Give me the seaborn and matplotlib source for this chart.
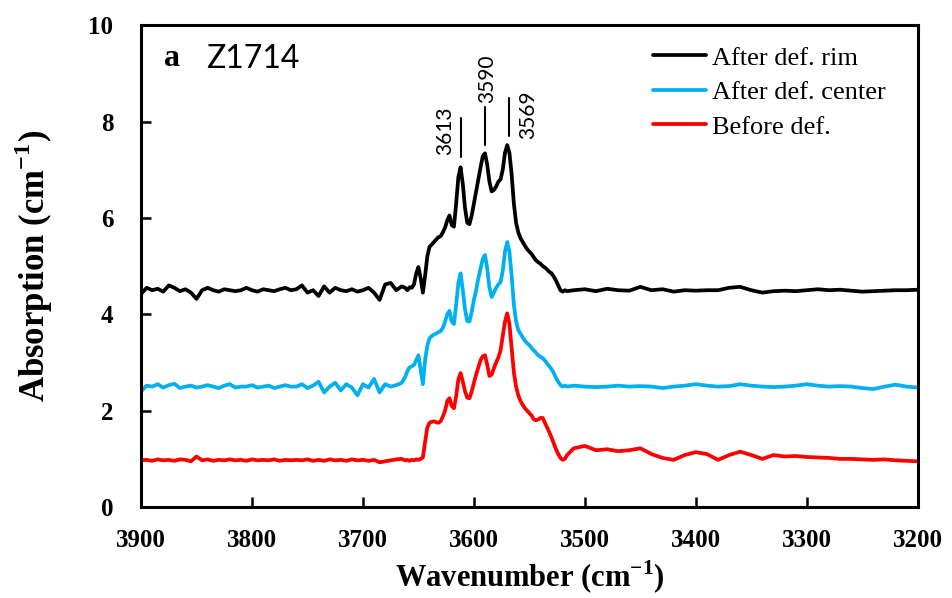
"""FTIR absorption spectra of Z1714 before and after deformation."""

import matplotlib

matplotlib.use("Agg")
import matplotlib.pyplot as plt
import numpy as np
import pandas as pd
import seaborn as sns

# wavenumber sampling: coarse on the left baseline, fine across the OH bands, coarse on the right
WAVENUMBER = np.concatenate(
    [np.arange(3900, 3664, -5), np.arange(3662, 3515, -2), np.arange(3510, 3199, -10)]
)

SERIES_NAMES = ["After def. rim", "After def. center", "Before def."]
SERIES_COLORS = ["#000000", "#00B0F0", "#FF0000"]

# 3900 -> 3665 (step 5)
RIM_LEFT = [4.42, 4.55, 4.5, 4.53, 4.47, 4.6, 4.55, 4.48, 4.52, 4.45, 4.32, 4.5, 4.55, 4.5,
            4.47, 4.52, 4.5, 4.48, 4.5, 4.55, 4.5, 4.47, 4.52, 4.5, 4.48, 4.52, 4.55, 4.5,
            4.52, 4.6, 4.45, 4.5, 4.38, 4.58, 4.45, 4.55, 4.5, 4.48, 4.52, 4.47, 4.5, 4.55,
            4.45, 4.3, 4.62, 4.65, 4.5, 4.58]
CENTER_LEFT = [2.4, 2.52, 2.5, 2.55, 2.48, 2.53, 2.56, 2.47, 2.5, 2.52, 2.48, 2.5, 2.53, 2.5,
               2.47, 2.52, 2.55, 2.48, 2.5, 2.5, 2.53, 2.48, 2.5, 2.52, 2.47, 2.5, 2.53, 2.5,
               2.5, 2.55, 2.47, 2.52, 2.6, 2.38, 2.5, 2.58, 2.42, 2.55, 2.48, 2.32, 2.55, 2.48,
               2.66, 2.38, 2.55, 2.5, 2.53, 2.58]
BEFORE_LEFT = [0.97, 0.98, 0.96, 0.99, 0.97, 0.98, 0.96, 0.99, 0.98, 0.95, 1.05, 0.97, 0.99,
               0.96, 0.98, 0.97, 0.99, 0.97, 0.98, 0.96, 0.99, 0.97, 0.98, 0.97, 0.99, 0.96,
               0.98, 0.97, 0.98, 0.97, 0.99, 0.96, 0.98, 0.96, 0.99, 0.97, 0.98, 0.96, 0.99,
               0.97, 0.98, 0.96, 0.98, 0.93, 0.95, 0.97, 0.99, 1.0]

# 3662 -> 3516 (step 2)
RIM_BAND = [4.55, 4.5, 4.56, 4.55, 4.62, 4.85, 4.98, 4.75, 4.45, 4.8, 5.2, 5.4, 5.45, 5.5,
            5.55, 5.6, 5.62, 5.7, 5.8, 5.95, 6.05, 5.85, 5.82, 6.3, 6.85, 7.05, 6.7, 6.2,
            5.9, 5.87, 6.05, 6.3, 6.55, 6.8, 7.05, 7.28, 7.34, 7.1, 6.75, 6.55, 6.58, 6.65,
            6.75, 6.8, 7.0, 7.35, 7.51, 7.35, 6.9, 6.3, 5.9, 5.7, 5.58, 5.5, 5.42, 5.35,
            5.3, 5.25, 5.18, 5.12, 5.08, 5.05, 5.0, 4.97, 4.93, 4.88, 4.85, 4.78, 4.7, 4.6,
            4.5, 4.47, 4.5, 4.48]
CENTER_BAND = [2.7, 2.82, 2.9, 2.92, 2.95, 3.05, 3.15, 2.85, 2.55, 3.05, 3.35, 3.5, 3.55,
               3.58, 3.6, 3.63, 3.65, 3.72, 3.85, 4.0, 4.07, 3.85, 3.8, 4.2, 4.65, 4.85, 4.5,
               4.1, 3.86, 3.85, 4.05, 4.3, 4.5, 4.75, 4.95, 5.15, 5.23, 4.95, 4.55, 4.36,
               4.45, 4.55, 4.62, 4.67, 4.9, 5.3, 5.5, 5.3, 4.8, 4.2, 3.85, 3.67, 3.6, 3.52,
               3.45, 3.4, 3.36, 3.3, 3.25, 3.2, 3.15, 3.12, 3.09, 3.04, 2.98, 2.92, 2.86,
               2.78, 2.68, 2.6, 2.53, 2.5, 2.52, 2.5]
BEFORE_BAND = [0.97, 0.98, 0.96, 0.98, 0.97, 0.99, 0.98, 1.0, 1.03, 1.35, 1.65, 1.75, 1.77,
               1.78, 1.76, 1.75, 1.78, 1.88, 2.0, 2.2, 2.26, 2.1, 2.05, 2.3, 2.65, 2.78, 2.6,
               2.4, 2.27, 2.26, 2.4, 2.58, 2.75, 2.9, 3.05, 3.13, 3.15, 2.95, 2.72, 2.75,
               2.88, 3.0, 3.1, 3.25, 3.55, 3.85, 4.02, 3.8, 3.3, 2.8, 2.5, 2.32, 2.2, 2.12,
               2.05, 2.0, 1.95, 1.9, 1.82, 1.8, 1.82, 1.85, 1.85, 1.75, 1.65, 1.55, 1.44,
               1.32, 1.2, 1.1, 1.02, 0.98, 1.0, 1.08]

# 3510 -> 3200 (step 10)
RIM_RIGHT = [4.5, 4.52, 4.48, 4.53, 4.5, 4.49, 4.57, 4.5, 4.52, 4.47, 4.5, 4.49, 4.5, 4.5,
             4.55, 4.57, 4.5, 4.45, 4.48, 4.49, 4.48, 4.5, 4.52, 4.5, 4.51, 4.49, 4.47,
             4.48, 4.49, 4.5, 4.5, 4.51]
CENTER_RIGHT = [2.52, 2.5, 2.49, 2.5, 2.52, 2.5, 2.51, 2.5, 2.47, 2.5, 2.52, 2.55, 2.52,
                2.5, 2.51, 2.55, 2.52, 2.5, 2.49, 2.5, 2.52, 2.55, 2.52, 2.5, 2.51, 2.5,
                2.47, 2.45, 2.5, 2.54, 2.5, 2.48]
BEFORE_RIGHT = [1.22, 1.27, 1.18, 1.2, 1.16, 1.18, 1.22, 1.1, 1.02, 0.98, 1.08, 1.14, 1.1,
                0.98, 1.08, 1.15, 1.08, 1.0, 1.08, 1.05, 1.06, 1.04, 1.03, 1.02, 1.0, 1.0,
                0.99, 0.98, 0.99, 0.97, 0.96, 0.95]

PEAK_LABELS = ["3613", "3590", "3569"]

SERIF = ["Liberation Serif", "DejaVu Serif"]
SANS = ["Lato", "DejaVu Sans"]

sns.set_theme(style="ticks")
plt.rcParams["font.family"] = SERIF
plt.rcParams.update({"text.color": "black", "axes.labelcolor": "black"})

series = {
    SERIES_NAMES[0]: RIM_LEFT + RIM_BAND + RIM_RIGHT,
    SERIES_NAMES[1]: CENTER_LEFT + CENTER_BAND + CENTER_RIGHT,
    SERIES_NAMES[2]: BEFORE_LEFT + BEFORE_BAND + BEFORE_RIGHT,
}
df = pd.concat(
    [
        pd.DataFrame({"wavenumber": WAVENUMBER, "absorption": values, "sample": name})
        for name, values in series.items()
    ],
    ignore_index=True,
)

fig = plt.figure(figsize=(9.53, 5.98), dpi=100)
ax = fig.add_axes([0.148, 0.152, 0.815, 0.806])

sns.lineplot(
    data=df,
    x="wavenumber",
    y="absorption",
    hue="sample",
    hue_order=SERIES_NAMES,
    palette=dict(zip(SERIES_NAMES, SERIES_COLORS)),
    estimator=None,
    linewidth=2.7,
    ax=ax,
)

ax.set_xlim(3900, 3200)
ax.set_ylim(0, 10)
ax.set_xticks(range(3900, 3199, -100))
ax.set_yticks(range(0, 11, 2))
for spine in ax.spines.values():
    spine.set_linewidth(2.2)
    spine.set_color("black")
ax.tick_params(axis="both", direction="in", length=7, width=1.8, colors="black",
               labelsize=18, top=False, right=False)
ax.tick_params(axis="y", pad=20)
ax.tick_params(axis="x", pad=16)
for label in ax.get_xticklabels() + ax.get_yticklabels():
    label.set_fontweight("bold")

ax.set_xlabel("Wavenumber (cm$^{\\mathregular{-1}}$)", fontsize=22, fontweight="bold",
              labelpad=5, color="black")
ax.set_ylabel("Absorption (cm$^{\\mathregular{-1}}$)", fontsize=25, fontweight="bold",
              labelpad=24, color="black")

# peak markers
peak_pos = [3612, 3590, 3568]
line_spans = [(7.26, 8.07), (7.51, 8.30), (7.70, 8.49)]
text_pos = [(3626, 7.80), (3588, 8.88), (3551, 8.15)]
for label, x, span, (tx, ty) in zip(PEAK_LABELS, peak_pos, line_spans, text_pos):
    ax.plot([x, x], span, color="black", linewidth=1.5)
    ax.text(tx, ty, label, rotation=90, ha="center", va="center", fontsize=15,
            family=SANS, color="black")

ax.text(3872, 9.3, "a", fontsize=23, fontweight="bold", ha="center", va="center", color="black")
ax.text(3841, 9.3, "Z1714", fontsize=23, family=SANS, ha="left", va="center", color="black")

leg = ax.legend(
    loc="upper left",
    bbox_to_anchor=(0.685, 0.923),
    bbox_transform=fig.transFigure,
    frameon=False,
    fontsize=19,
    handlelength=2.0,
    handletextpad=0.25,
    labelspacing=0.42,
    borderpad=0,
    borderaxespad=0,
)
for text in leg.get_texts():
    text.set_color("black")

fig.savefig("out.png", dpi=100)
